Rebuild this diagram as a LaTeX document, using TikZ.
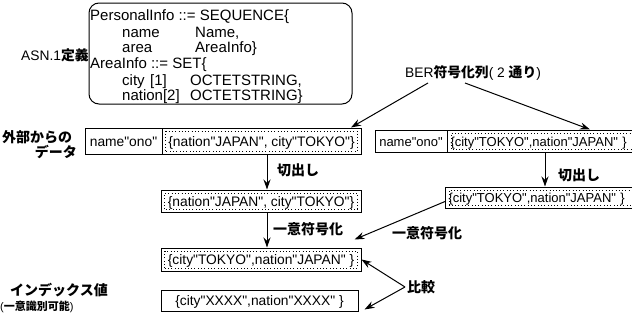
\documentclass[tikz,border=0pt]{standalone}
\usepackage{fontspec}
\setmainfont{Liberation Sans}
\newfontfamily\jp{Noto Sans CJK JP}
\newcommand{\jpt}[1]{{\jp\bfseries #1}}
\newcommand{\qq}{\textquotedbl}
\usetikzlibrary{arrows.meta}
\begin{document}
\begin{tikzpicture}[x=1pt,y=-1pt,
  every node/.style={font=\fontsize{13.8}{15}\selectfont},
  asnfont/.style={font=\fontsize{15}{17}\selectfont},
  jpfont/.style={font=\fontsize{14}{16}\selectfont},
  rfont/.style={font=\fontsize{13}{15}\selectfont},
  txt/.style={inner sep=0pt, anchor=west, text height=10pt, text depth=0pt},
  box/.style={draw, line width=1pt, inner sep=0pt, text height=10pt, text depth=0pt},
  dotbox/.style={box, path picture={\draw[line width=0.7pt, dash pattern=on 0.7pt off 2.6pt]
      ([shift={(3.5pt,3pt)}]path picture bounding box.south west) rectangle
      ([shift={(-3.5pt,-3pt)}]path picture bounding box.north east);}},
  arr/.style={draw, line width=1pt, -{Stealth[length=10pt,width=7pt]}},
]
\clip (0,0) rectangle (632,324);

% ASN.1 definition
\node[box, rounded corners=10pt, minimum width=263pt, minimum height=101pt] (asn) at (220.5,53.5) {};
\begin{scope}[every node/.append style={asnfont}]
\node[txt] (l1) at (90,15) {PersonalInfo ::= SEQUENCE\{};
\node[txt] (l2a) at (122,32) {name};
\node[txt] (l2b) at (195,32) {Name,};
\node[txt] (l3a) at (122,47) {area};
\node[txt] (l3b) at (195,47) {AreaInfo\}};
\node[txt] (l4) at (90,63) {AreaInfo ::= SET\{};
\node[txt] (l5a) at (122,80) {city};
\node[txt] (l5b) at (150,80) {[1]};
\node[txt] (l5c) at (190,80) {OCTETSTRING,};
\node[txt] (l6a) at (122,95) {nation[2]};
\node[txt] (l6b) at (190,95) {OCTETSTRING\}};
\end{scope}

% left labels
\node[txt] (asnlbl) at (21,55) {ASN.1\jpt{定義}};
\node[txt, jpfont] (ext1) at (2,137) {\jpt{外部からの}};
\node[txt, jpfont, anchor=east] (ext2) at (77,152) {\jpt{データ}};
\node[txt, jpfont] (idx1) at (10,290) {\jpt{インデックス値}};
\node[txt, font=\fontsize{11}{13}\selectfont] (idx2) at (0,305) {(\jpt{一意識別可能})};
\node[txt] (ber) at (405,72) {BER\jpt{符号化列}( 2 \jpt{通り})};

% data boxes (left)
\node[box, minimum width=77pt, minimum height=26pt] (nameA) at (123.5,141) {name\qq ono\qq};
\node[dotbox, minimum width=199pt, minimum height=26pt] (valA) at (261.5,141) {\{nation\qq JAPAN\qq, city\qq TOKYO\qq\}};
\node[dotbox, minimum width=200pt, minimum height=22pt] (B) at (261,201) {\{nation\qq JAPAN\qq, city\qq TOKYO\qq\}};
\node[dotbox, minimum width=200pt, minimum height=23pt] (C) at (261,259.5) {\{city\qq TOKYO\qq,nation\qq JAPAN\qq\ \}};
\node[box, minimum width=197pt, minimum height=21pt] (D) at (259.5,300.5) {\{city\qq XXXX\qq,nation\qq XXXX\qq\ \}};

% data boxes (right)
\node[box, rfont, minimum width=72pt, minimum height=22pt] (nameE) at (411,141) {name\qq ono\qq};
\node[dotbox, rfont, anchor=west, text width=194pt, align=left, inner xsep=3pt, minimum height=22pt] (valE) at (447,141) {\{city\qq TOKYO\qq,nation\qq JAPAN\qq\ \}};
\node[dotbox, rfont, anchor=west, text width=194pt, align=left, inner xsep=3pt, minimum height=21pt] (F) at (445,197.5) {\{city\qq TOKYO\qq,nation\qq JAPAN\qq\ \}};

% arrow labels
\node[txt, jpfont] (cut1) at (277,170) {\jpt{切出し}};
\node[txt, jpfont] (cut2) at (558,175) {\jpt{切出し}};
\node[txt, jpfont] (enc1) at (273,229) {\jpt{一意符号化}};
\node[txt, jpfont] (enc2) at (392,233) {\jpt{一意符号化}};
\node[txt, jpfont] (cmp) at (407,287) {\jpt{比較}};

% helper coordinates
\coordinate (xA) at (267,0);
\coordinate (xE) at (545,0);
\coordinate (tl) at (351,0);
\coordinate (tr) at (590,0);
\coordinate (berL) at (428,83);
\coordinate (berR) at (465,83);

% connectors
\draw[arr] (berL) -- (valA.north -| tl);
\draw[arr] (berR) -- (valE.north -| tr);
\draw[arr] (valA.south -| xA) -- (B.north -| xA);
\draw[arr] (B.south -| xA) -- (C.north -| xA);
\draw[arr] (valE.south -| xE) -- (F.north -| xE);
\draw[arr] ([yshift=-4pt]F.west) -- ([shift={(-7pt,8pt)}]C.north east);
\draw[arr] ([xshift=-2pt]cmp.west) -- (C.east);
\draw[arr] ([xshift=-2pt]cmp.west) -- ([shift={(6pt,2pt)}]D.south east);
\end{tikzpicture}
\end{document}
